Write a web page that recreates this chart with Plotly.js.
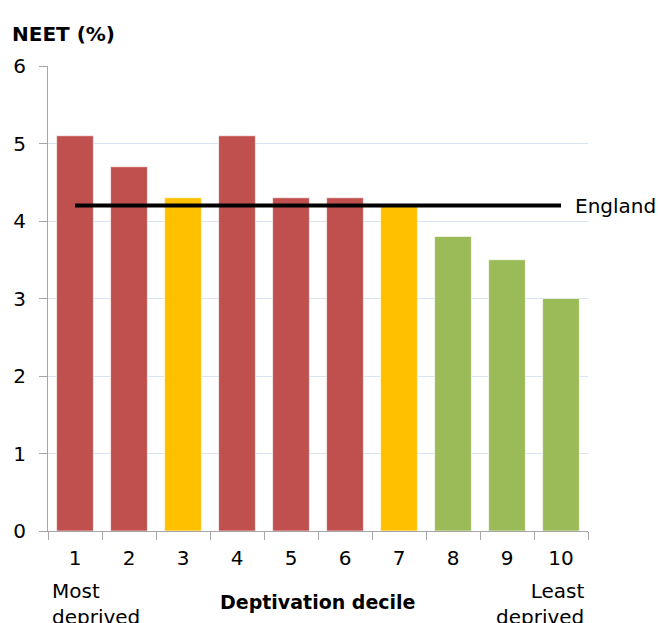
<!DOCTYPE html>
<html>
<head>
<meta charset="utf-8">
<script src="https://cdn.plot.ly/plotly-3.0.1.min.js"></script>
<style>html,body{margin:0;padding:0;background:#fff;}#chart{width:658px;height:623px;}</style>
</head>
<body>
<div id="chart"></div>
<script>
const deciles = ['1','2','3','4','5','6','7','8','9','10'];
const neetValues = [5.1, 4.7, 4.3, 5.1, 4.3, 4.3, 4.2, 3.8, 3.5, 3.0];
const barColors = ['#c0504d','#c0504d','#ffc000','#c0504d','#c0504d','#c0504d','#ffc000','#9bbb59','#9bbb59','#9bbb59'];
const englandValue = 4.2;
const englandLabel = 'England';
const yTitle = 'NEET (%)';
const xTitle = 'Deptivation decile';

const FONT = 'DejaVu Sans, Liberation Sans, Arial, sans-serif';

const traces = [
  {
    type: 'bar', x: deciles, y: neetValues,
    marker: {color: barColors, line: {color: 'rgba(255,255,255,0.6)', width: 1}},
    hoverinfo: 'x+y', showlegend: false
  },
  {
    type: 'scatter', mode: 'lines',
    x: [deciles[0], deciles[deciles.length-1]],
    y: [englandValue, englandValue],
    line: {color: '#000', width: 4},
    showlegend: false
  }
];

const layout = {
  width: 658, height: 623,
  margin: {l: 48, r: 70, t: 66, b: 92},
  paper_bgcolor: '#fff', plot_bgcolor: '#fff',
  font: {family: FONT, size: 20, color: '#000'},
  bargap: 0.32,
  showlegend: false,
  xaxis: {
    type: 'category', tickson: 'boundaries',
    ticks: 'outside', ticklen: 8, tickcolor: '#a6a6a6', tickwidth: 1,
    showline: true, linecolor: '#a6a6a6', linewidth: 1,
    showgrid: false, zeroline: false,
    tickfont: {family: FONT, size: 20, color: '#000'},
    ticklabelstandoff: 9,
    range: [-0.5, 9.5]
  },
  yaxis: {
    range: [0, 6], dtick: 1, tick0: 0,
    ticks: 'outside', ticklen: 8, tickcolor: '#a6a6a6', tickwidth: 1,
    showline: true, linecolor: '#a6a6a6', linewidth: 1,
    showgrid: true, gridcolor: '#d9e4f2', gridwidth: 1,
    zeroline: false,
    tickfont: {family: FONT, size: 20, color: '#000'},
    ticklabelstandoff: 9
  },
  annotations: [
    {xref: 'paper', yref: 'paper', x: -0.0704, y: 1.069, xanchor: 'left', yanchor: 'middle',
     text: '<b>' + yTitle + '</b>', showarrow: false, font: {family: FONT, size: 20, color: '#000'}},
    {xref: 'x', yref: 'y', x: 9, y: englandValue, xanchor: 'left', yanchor: 'middle', xshift: 12,
     text: englandLabel, showarrow: false, font: {family: FONT, size: 20, color: '#000'}},
    {xref: 'paper', yref: 'paper', x: 0.5, y: -0.153, xanchor: 'center', yanchor: 'middle',
     text: '<b>' + xTitle + '</b>', showarrow: false, font: {family: FONT, size: 19, color: '#000'}},
    {xref: 'paper', yref: 'paper', x: 0.0037, y: -0.098, xanchor: 'left', yanchor: 'top', align: 'left',
     text: 'Most<br>deprived', showarrow: false, font: {family: FONT, size: 20, color: '#000'}},
    {xref: 'paper', yref: 'paper', x: 0.996, y: -0.098, xanchor: 'right', yanchor: 'top', align: 'right',
     text: 'Least<br>deprived', showarrow: false, font: {family: FONT, size: 20, color: '#000'}}
  ]
};

Plotly.newPlot('chart', traces, layout, {displayModeBar: false, staticPlot: true});
</script>
</body>
</html>
